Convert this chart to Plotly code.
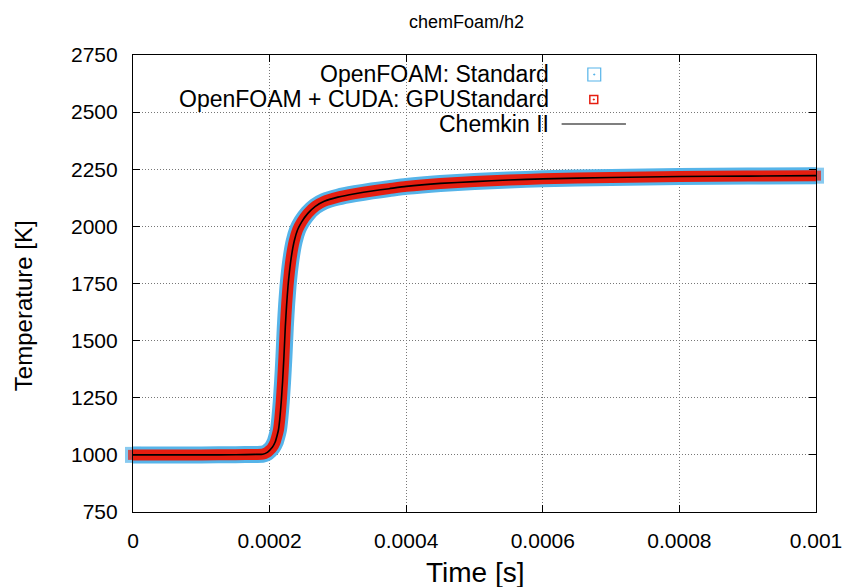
import plotly.graph_objects as go

# ---------------- data ----------------
time_s = [0.0, 0.00005, 0.0001, 0.00015, 0.00018, 0.00019, 0.000196, 0.0002,
          0.000204, 0.000208, 0.000211, 0.000213, 0.000215, 0.000217, 0.000219,
          0.000221, 0.000223, 0.000225, 0.000227, 0.000229, 0.000232, 0.000236,
          0.000241, 0.000247, 0.000256, 0.000267, 0.00028, 0.0003, 0.000325,
          0.00035, 0.000375, 0.0004, 0.00045, 0.0005, 0.00055, 0.0006, 0.0007,
          0.0008, 0.0009, 0.001]
T_standard = [1000, 1000, 1000, 1000.5, 1002, 1003, 1010, 1020,
              1033, 1055, 1085, 1110, 1160, 1230, 1320,
              1430, 1560, 1660, 1740, 1800, 1870, 1935,
              1985, 2020, 2057, 2088, 2110, 2128, 2143,
              2155, 2165, 2175, 2188, 2196, 2203, 2208, 2214,
              2218, 2220, 2222]
T_gpu = list(T_standard)
T_chemkin = list(T_standard)

series_names = ["OpenFOAM: Standard", "OpenFOAM + CUDA: GPUStandard", "Chemkin II"]
x_tickvals = [0, 0.0002, 0.0004, 0.0006, 0.0008, 0.001]
x_ticktext = ["0", "0.0002", "0.0004", "0.0006", "0.0008", "0.001"]
y_tickvals = [750, 1000, 1250, 1500, 1750, 2000, 2250, 2500, 2750]
y_ticktext = [str(v) for v in y_tickvals]

BLUE = "#56b4e9"
RED = "#e51e10"
FONT = "Liberation Sans, Arial, Helvetica, sans-serif"


def end_sizes(n, s):
    # square markers only at the two ends of a series (gives square end caps)
    return [s] + [0] * (n - 2) + [s]


n = len(time_s)
fig = go.Figure()
fig.add_trace(go.Scatter(x=time_s, y=T_standard, mode="lines+markers", name=series_names[0],
                         line=dict(color=BLUE, width=17, shape="spline", smoothing=0.5),
                         marker=dict(symbol="square", size=end_sizes(n, 16), color=BLUE, line=dict(width=0)),
                         cliponaxis=False, showlegend=False))
fig.add_trace(go.Scatter(x=time_s, y=T_gpu, mode="lines+markers", name=series_names[1],
                         line=dict(color=RED, width=11, shape="spline", smoothing=0.5),
                         marker=dict(symbol="square", size=end_sizes(n, 10), color=RED, line=dict(width=0)),
                         cliponaxis=False, showlegend=False))
fig.add_trace(go.Scatter(x=time_s, y=T_chemkin, mode="lines", name=series_names[2],
                         line=dict(color="black", width=1.6, shape="spline", smoothing=0.5),
                         cliponaxis=False, showlegend=False))

# plot area in pixels: x 133..823, y 55..512
PL, PR, PT, PB = 133, 823, 55, 512
W, H = PR - PL, PB - PT


def px(x):
    return (x - PL) / W


def py(y):
    return (PB - y) / H


shapes = []
# opaque key background
shapes.append(dict(type="rect", xref="paper", yref="paper", x0=px(155), x1=px(642),
                   y0=py(137), y1=py(62), fillcolor="white", line=dict(width=0), layer="between"))
# key samples
shapes.append(dict(type="rect", xref="paper", yref="paper", x0=px(592.5), x1=px(605.5),
                   y0=py(81), y1=py(68), line=dict(color=BLUE, width=1.2), fillcolor="rgba(0,0,0,0)"))
shapes.append(dict(type="rect", xref="paper", yref="paper", x0=px(598.5), x1=px(599.5),
                   y0=py(75), y1=py(74), line=dict(color=BLUE, width=1), fillcolor=BLUE))
shapes.append(dict(type="rect", xref="paper", yref="paper", x0=px(594.5), x1=px(602.5),
                   y0=py(103.5), y1=py(95.5), line=dict(color=RED, width=1.5), fillcolor="rgba(0,0,0,0)"))
shapes.append(dict(type="rect", xref="paper", yref="paper", x0=px(598), x1=px(599),
                   y0=py(100), y1=py(99), line=dict(color=RED, width=1), fillcolor=RED))
shapes.append(dict(type="line", xref="paper", yref="paper", x0=px(566), x1=px(631),
                   y0=py(124), y1=py(124), line=dict(color="black", width=1.2)))

annotations = []
for name, yc in zip(series_names, [74, 99, 124]):
    annotations.append(dict(text=name, xref="paper", yref="paper", x=px(555), y=py(yc),
                            xanchor="right", yanchor="middle", showarrow=False,
                            font=dict(family=FONT, size=23, color="black")))
annotations.append(dict(text="chemFoam/h2", xref="paper", yref="paper", x=px(470), y=py(22),
                        xanchor="center", yanchor="middle", showarrow=False,
                        font=dict(family=FONT, size=18, color="black")))
annotations.append(dict(text="Time [s]", xref="paper", yref="paper", x=px(479), y=py(572),
                        xanchor="center", yanchor="middle", showarrow=False,
                        font=dict(family=FONT, size=28, color="black")))
annotations.append(dict(text="Temperature [K]", xref="paper", yref="paper", x=px(22), y=py(306),
                        xanchor="center", yanchor="middle", showarrow=False, textangle=-90,
                        font=dict(family=FONT, size=24, color="black")))

axis_common = dict(showline=True, linecolor="black", linewidth=1.2, mirror="ticks",
                   ticks="inside", ticklen=7, tickwidth=1, tickcolor="black",
                   showgrid=True, gridcolor="#777777", gridwidth=1, griddash="1px,2px",
                   zeroline=False, tickfont=dict(family=FONT, size=21, color="black"),
                   ticklabelstandoff=10)

fig.update_layout(
    width=854, height=587, autosize=False,
    margin=dict(l=PL, r=854 - PR, t=PT, b=587 - PB),
    paper_bgcolor="white", plot_bgcolor="white",
    xaxis=dict(range=[0, 0.001], tickvals=x_tickvals, ticktext=x_ticktext, **axis_common),
    yaxis=dict(range=[750, 2750], tickvals=y_tickvals, ticktext=y_ticktext, **axis_common),
    shapes=shapes, annotations=annotations,
)

fig.write_html("out.html")
